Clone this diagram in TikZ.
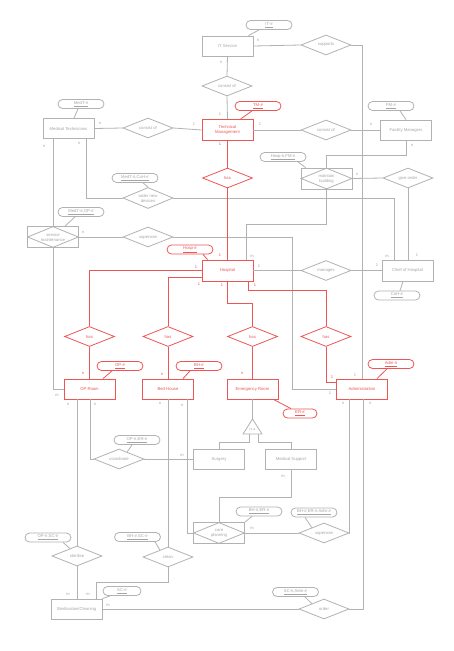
\documentclass[tikz,border=0pt]{standalone}
\usepackage{fontspec}
\setmainfont{Liberation Sans}
\usetikzlibrary{shapes.geometric,shapes.misc,calc}
\definecolor{ln}{RGB}{178,178,178}
\definecolor{tx}{RGB}{165,165,165}
\definecolor{rd}{RGB}{238,85,85}
\tikzset{
  ent/.style={draw=ln, line width=0.8pt, minimum width=51pt, minimum height=20pt, inner sep=0pt, text=tx, align=center},
  rent/.style={ent, draw=rd, text=rd},
  rel/.style={diamond, aspect=2.5, draw=ln, line width=0.8pt, minimum width=50pt, minimum height=20pt, inner sep=0pt, text=tx, align=center},
  rrel/.style={rel, draw=rd, text=rd},
  attr/.style={rounded rectangle, draw=ln, line width=0.8pt, minimum width=46pt, minimum height=9pt, inner sep=0pt, text=tx},
  rattr/.style={attr, draw=rd, text=rd},
  card/.style={text=tx, inner sep=0pt, font=\fontsize{4}{4}\selectfont},
  rcard/.style={card, text=rd},
  conn/.style={draw=ln, line width=0.8pt},
  rconn/.style={draw=rd, line width=0.8pt}
}
\begin{document}
\begin{tikzpicture}[x=1pt,y=-1pt,font=\fontsize{4.2}{5}\selectfont]
\fill[white] (0,0) rectangle (454,651);
\useasboundingbox (0,0) rectangle (454,651);
% entities
\node[ent] (its) at (227.5,46) {IT Service};
\node[rent, minimum height=21pt] (tm) at (227.5,130) {Technical\\Management};
\node[ent] (mt) at (68.5,128.5) {Medical Technicians};
\node[ent] (fm) at (406,130) {Facility Managers};
\node[rent, minimum height=21pt] (hosp) at (227.5,270.5) {Hospital};
\node[ent, minimum height=21pt] (coh) at (407.5,270.5) {Chief of Hospital};
\node[rent] (op) at (89.5,389) {OP Room};
\node[rent] (bh) at (168,389) {Bed House};
\node[rent] (er) at (252.5,389) {Emergency Room};
\node[rent] (adm) at (362,389) {Administration};
\node[ent] (sur) at (219,459) {Surgery};
\node[ent] (ms) at (291,459) {Medical Support};
\node[ent] (sc) at (76.5,609) {Sterilisation/Cleaning};
% associative entities
\node[ent, minimum height=21pt] (mb) at (326.5,178.5) {};
\node[rel, minimum width=51pt, minimum height=21pt] (mbd) at (mb) {maintain\\building};
\node[ent, minimum height=21pt] (sm) at (53,237) {};
\node[rel, minimum width=51pt, minimum height=21pt] (smd) at (sm) {service\\maintenance};
\node[ent, minimum height=21pt] (cp) at (219,533) {};
\node[rel, minimum width=51pt, minimum height=21pt] (cpd) at (cp) {care\\planning};
% relationships
\node[rel] (cons1) at (227,86) {consist of};
\node[rel] (sup1) at (326,45) {supports};
\node[rel] (cons2) at (148,128) {consist of};
\node[rel] (cons3) at (326,130) {consist of};
\node[rrel] (hastm) at (227.5,178) {has};
\node[rel, minimum height=21pt] (ond) at (148,198) {order new\\devices};
\node[rel] (go) at (408,178) {give order};
\node[rel] (supv1) at (148,237) {supervise};
\node[rel] (man) at (326,270.5) {manages};
\node[rrel] (hasop) at (89.5,336.5) {has};
\node[rrel] (hasbh) at (168,336.5) {has};
\node[rrel] (haser) at (252.5,336.5) {has};
\node[rrel] (hasadm) at (326,336.5) {has};
\node[rel] (coord) at (119,459) {coordinate};
\node[rel] (supv2) at (324,533) {supervise};
\node[rel] (ster) at (77,556) {sterilise};
\node[rel] (clean) at (168,557) {clean};
\node[rel] (order) at (324,609) {order};
% attributes
\node[attr] (ait) at (269,25) {\underline{IT-\#}};
\node[rattr] (atm) at (258,106) {\underline{TM-\#}};
\node[attr] (amt) at (81,104) {\underline{MedT-\#}};
\node[attr] (afm) at (391,106) {\underline{FM-\#}};
\node[attr] (ahf) at (283,157) {\underline{Hosp-\#,FM-\#}};
\node[attr] (amc) at (135,178) {\underline{MedT-\#,CoH-\#}};
\node[attr] (amo) at (81,212) {\underline{MedT-\#,OP-\#}};
\node[rattr] (ahosp) at (190,249.5) {\underline{Hosp-\#}};
\node[attr] (acoh) at (397,295.5) {\underline{CoH-\#}};
\node[rattr] (aop) at (120,366) {\underline{OP-\#}};
\node[rattr] (abh) at (199,366) {\underline{BH-\#}};
\node[rattr] (aadm) at (391,364) {\underline{Adm-\#}};
\node[rattr, minimum width=34pt] (aer) at (300,413.5) {\underline{ER-\#}};
\node[attr] (aoe) at (137,440) {\underline{OP-\#,ER-\#}};
\node[attr] (abe) at (259,511.5) {\underline{BH-\#,ER-\#}};
\node[attr] (abea) at (314,512.5) {\underline{BH-\#,ER-\#,Adm-\#}};
\node[attr] (aos) at (48,537.5) {\underline{OP-\#,SC-\#}};
\node[attr] (abs) at (137.5,537) {\underline{BH-\#,SC-\#}};
\node[attr, minimum width=38pt] (asc) at (122,591) {\underline{SC-\#}};
\node[attr] (asa) at (295.5,592) {\underline{SC-\#,Adm-\#}};
% is-a triangle
\coordinate (isatop) at (252.5,419);
\coordinate (isabl) at (243,434);
\coordinate (isabr) at (262,434);
\coordinate (isal) at (249.5,434);
\coordinate (isar) at (258.5,434);
\draw[conn, line join=miter] (isatop) -- (isabl) -- (isabr) -- cycle;
\node[text=tx, font=\fontsize{3.6}{4}\selectfont] (isatxt) at (252.5,429.5) {is a};
% attribute links
\draw[conn] ([xshift=-10]ait.south) -- ([xshift=21]its.north);
\draw[rconn] ([xshift=-6]atm.south) -- ([xshift=13]tm.north);
\draw[conn] ([xshift=-3]amt.south) -- ([xshift=5.5]mt.north);
\draw[conn] ([xshift=9]afm.south) -- (fm.north);
\draw[conn] ([xshift=15]ahf.south) -- ([xshift=5]mb.north west);
\draw[conn] ([xshift=8]amc.south) -- (ond.north);
\draw[conn] ([xshift=-6]amo.south) -- ([xshift=12]sm.north);
\draw[rconn] ([xshift=13]ahosp.south) -- ([xshift=6]hosp.north west);
\draw[conn] ([xshift=3]acoh.north) -- ([xshift=-4.5]coh.south);
\draw[rconn] ([xshift=-8]aop.south) -- ([xshift=13.5]op.north);
\draw[rconn] ([xshift=-9]abh.south) -- ([xshift=15]bh.north);
\draw[rconn] ([xshift=-4]aadm.south) -- ([xshift=15]adm.north);
\draw[rconn] ([xshift=-5]er.south east) -- ([xshift=-9]aer.north);
\draw[conn] ([xshift=-5]aoe.south) -- ($(coord.north)!0.32!(coord.east)$);
\draw[conn] ([xshift=-7]abe.south) -- (cp.north east);
\draw[conn] ([xshift=-9]abea.south) -- ($(supv2.west)!0.52!(supv2.north)$);
\draw[conn] ([xshift=15]aos.south) -- ($(ster.west)!0.72!(ster.north)$);
\draw[conn] ([xshift=17.5]abs.south) -- ($(clean.west)!0.68!(clean.north)$);
\draw[conn] ([xshift=-12]asc.south) -- (sc.north east);
\draw[conn] ([xshift=9.5]asa.south) -- ($(order.west)!0.52!(order.north)$);
% gray connectors
\draw[conn] (its.east) -- (sup1.west);
\draw[conn] (sup1.east) -| (adm.north);
\draw[conn] (its.south) -- (cons1.north);
\draw[conn] (cons1.south) -- (tm.north);
\draw[conn] (mt.east) -- (cons2.west);
\draw[conn] (cons2.east) -- (tm.west);
\draw[conn] (tm.east) -- (cons3.west);
\draw[conn] (cons3.east) -- (fm.west);
\draw[conn] (fm.south) -- (fm.south |- 0,155) -| (mb.north);
\draw[conn] (mb.east) -- (go.west);
\draw[conn] (go.south) -- (go.south |- coh.north);
\draw[conn] (mb.south) -- (mb.south |- 0,224) -| ([xshift=18.5]hosp.north);
\draw[conn] ([xshift=17.5]mt.south) |- (ond.west);
\draw[conn] (ond.east) -| ([xshift=-13.5]coh.north);
\draw[conn] ([xshift=-15.5]mt.south) -- (sm.north);
\draw[conn] (sm.south) |- (op.west);
\draw[conn] (sm.east) -- (supv1.west);
\draw[conn] (supv1.east) -| (292,0 |- adm.west) -- (adm.west);
\draw[conn] (hosp.east) -- (man.west);
\draw[conn] (man.east) -- (coh.west);
\draw[conn] ([xshift=-12.5]op.south) -- (ster.north);
\draw[conn] (ster.south) -- (ster.south |- sc.north);
\draw[conn] ([xshift=0.5]op.south) |- (coord.west);
\draw[conn] (coord.east) -- (sur.west);
\draw[conn] (bh.south) -- (clean.north);
\draw[conn] (clean.south) -- (clean.south |- 0,582) -| ([xshift=19.5]sc.north);
\draw[conn] ([xshift=19]bh.south) |- (cp.west);
\draw[conn] (er.south) -- (isatop);
\draw[conn] (isal) -- (isal |- 0,442) -| (sur.north);
\draw[conn] (isar) -- (isar |- 0,442) -| (ms.north);
\draw[conn] (ms.south) -- (ms.south |- 0,497) -| (cp.north);
\draw[conn] (cp.east) -- (supv2.west);
\draw[conn] (supv2.east) -| ([xshift=-13]adm.south);
\draw[conn] ([xshift=1]adm.south) |- (order.east);
\draw[conn] (order.west) -- (sc.east);
% red connectors
\draw[rconn] (tm.south) -- (hastm.north);
\draw[rconn] (hastm.south) -- (hosp.north);
\draw[rconn] (hosp.west) -| (hasop.north);
\draw[rconn] (hasop.south) -- (op.north);
\draw[rconn] (hosp.west |- 0,277) -| (hasbh.north);
\draw[rconn] (hasbh.south) -- (bh.north);
\draw[rconn] (hosp.south) -- (hosp.south |- 0,303) -| (haser.north);
\draw[rconn] (haser.south) -- (er.north);
\draw[rconn] ([xshift=20.5]hosp.south) -- ([xshift=20.5]hosp.south |- 0,290) -| (hasadm.north);
\draw[rconn] (hasadm.south) |- (adm.west |- 0,382);
% cardinalities
\node[card] (l1) at (258,40) {n};
\node[card] (l2) at (355,375) {1};
\node[card] (l3) at (221,62) {n};
\node[card] (l4) at (220,114) {1};
\node[card] (l5) at (100,123) {n};
\node[card] (l6) at (194,124) {1};
\node[card] (l7) at (260,124) {1};
\node[card] (l8) at (371,124) {n};
\node[rcard] (l9) at (220,144) {1};
\node[rcard] (l10) at (220,255) {1};
\node[card] (l11) at (412,145) {n};
\node[card] (l12) at (357,174) {n};
\node[card] (l13) at (417,255) {1};
\node[card] (l14) at (252,256) {m};
\node[card] (l15) at (79,143) {n};
\node[card] (l16) at (387,256) {m};
\node[card] (l17) at (44,146) {n};
\node[card] (l18) at (57,395) {m};
\node[card] (l19) at (83,232) {n};
\node[card] (l20) at (330,393) {1};
\node[card] (l21) at (259,266) {1};
\node[card] (l22) at (377,265) {1};
\node[rcard] (l23) at (196,267) {1};
\node[rcard] (l24) at (83,373) {n};
\node[rcard] (l25) at (199,284) {1};
\node[rcard] (l26) at (162,374) {n};
\node[rcard] (l27) at (222,285) {1};
\node[rcard] (l28) at (242,373) {n};
\node[rcard] (l29) at (255,285) {1};
\node[rcard] (l30) at (332,377) {1};
\node[card] (l31) at (68,404) {n};
\node[card] (l32) at (68,594) {m};
\node[card] (l33) at (95,404) {n};
\node[card] (l34) at (182,455) {m};
\node[card] (l35) at (160,403) {n};
\node[card] (l36) at (88,594) {m};
\node[card] (l37) at (182,405) {n};
\node[card] (l38) at (283,476) {m};
\node[card] (l39) at (252,528) {m};
\node[card] (l40) at (343,403) {n};
\node[card] (l41) at (370,403) {n};
\node[card] (l42) at (108,605) {m};
\end{tikzpicture}
\end{document}
